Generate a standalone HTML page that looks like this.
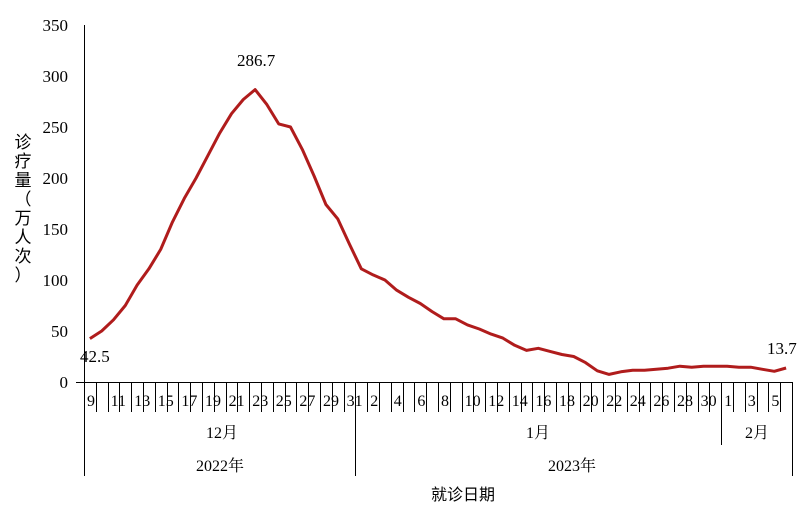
<!DOCTYPE html>
<html><head><meta charset="utf-8"><style>
html,body{margin:0;padding:0;background:#fff;}
svg{display:block;font-family:"Liberation Serif","Noto Serif CJK SC",serif;}
</style></head><body>
<svg width="810" height="509" viewBox="0 0 810 509" xmlns="http://www.w3.org/2000/svg">
<g font-size="17" fill="#000" text-anchor="end">
<text x="68" y="388">0</text>
<text x="68" y="337">50</text>
<text x="68" y="286">100</text>
<text x="68" y="235">150</text>
<text x="68" y="184">200</text>
<text x="68" y="133">250</text>
<text x="68" y="82">300</text>
<text x="68" y="31">350</text>
</g>
<g font-size="17" font-family="'Noto Sans CJK SC',sans-serif" text-anchor="middle">
<text x="23" y="148">诊</text><text x="23" y="167">疗</text><text x="23" y="186">量</text>
<text x="23" y="205">（</text><text x="23" y="224">万</text><text x="23" y="243">人</text>
<text x="23" y="262">次</text><text x="23" y="281">）</text>
</g>
<line x1="84.5" y1="25" x2="84.5" y2="476" stroke="#000" stroke-width="1"/>
<line x1="76" y1="382.5" x2="792" y2="382.5" stroke="#000" stroke-width="1"/>
<path stroke="#000" stroke-width="1" fill="none" d="M96.5 382V412M108.5 382V412M119.5 382V412M131.5 382V412M143.5 382V412M155.5 382V412M167.5 382V412M178.5 382V412M190.5 382V412M202.5 382V412M214.5 382V412M226.5 382V412M237.5 382V412M249.5 382V412M261.5 382V412M273.5 382V412M285.5 382V412M296.5 382V412M308.5 382V412M320.5 382V412M332.5 382V412M344.5 382V412M367.5 382V412M379.5 382V412M391.5 382V412M403.5 382V412M414.5 382V412M426.5 382V412M438.5 382V412M450.5 382V412M462.5 382V412M473.5 382V412M485.5 382V412M497.5 382V412M509.5 382V412M521.5 382V412M532.5 382V412M544.5 382V412M556.5 382V412M568.5 382V412M580.5 382V412M591.5 382V412M603.5 382V412M615.5 382V412M627.5 382V412M639.5 382V412M650.5 382V412M662.5 382V412M674.5 382V412M686.5 382V412M698.5 382V412M709.5 382V412M733.5 382V412M745.5 382V412M757.5 382V412M768.5 382V412M780.5 382V412"/>
<line x1="355.5" y1="382" x2="355.5" y2="476" stroke="#000"/>
<line x1="721.5" y1="382" x2="721.5" y2="445" stroke="#000"/>
<line x1="792.5" y1="382" x2="792.5" y2="476" stroke="#000"/>
<g font-size="16">
<text x="87" y="406">9</text><text x="110.6" y="406">11</text><text x="134.2" y="406">13</text><text x="157.8" y="406">15</text><text x="181.4" y="406">17</text><text x="205" y="406">19</text><text x="228.6" y="406">21</text><text x="252.2" y="406">23</text><text x="275.8" y="406">25</text><text x="299.4" y="406">27</text><text x="323" y="406">29</text><text x="346.6" y="406">31</text><text x="370.2" y="406">2</text><text x="393.8" y="406">4</text><text x="417.4" y="406">6</text><text x="441" y="406">8</text><text x="464.6" y="406">10</text><text x="488.2" y="406">12</text><text x="511.8" y="406">14</text><text x="535.4" y="406">16</text><text x="559" y="406">18</text><text x="582.6" y="406">20</text><text x="606.2" y="406">22</text><text x="629.8" y="406">24</text><text x="653.4" y="406">26</text><text x="677" y="406">28</text><text x="700.6" y="406">30</text><text x="724.2" y="406">1</text><text x="747.8" y="406">3</text><text x="771.4" y="406">5</text>
</g>
<g font-size="16" font-family="'Liberation Serif','Noto Serif CJK SC',serif" text-anchor="middle">
<text x="222" y="438">12月</text>
<text x="538" y="438">1月</text>
<text x="757" y="438">2月</text>
<text x="220" y="471">2022年</text>
<text x="572" y="471">2023年</text>
</g>
<text x="463" y="500" font-size="16" font-family="'Noto Sans CJK SC',sans-serif" text-anchor="middle">就诊日期</text>
<polyline fill="none" stroke="#B01C1C" stroke-width="3" stroke-linejoin="round" points="89.9,338.6 101.7,331.0 113.5,319.8 125.3,305.5 137.1,285.1 148.9,268.8 160.7,249.4 172.5,221.9 184.3,198.4 196.1,178.0 207.9,155.6 219.7,133.1 231.5,113.7 243.3,99.5 255.1,89.6 266.9,104.6 278.7,123.9 290.5,127.0 302.3,149.4 314.1,176.0 325.9,204.5 337.7,218.8 349.5,244.3 361.3,268.8 373.1,274.9 384.9,280.0 396.7,290.2 408.5,297.3 420.3,303.5 432.1,311.6 443.9,318.8 455.7,318.8 467.5,324.9 479.3,329.0 491.1,334.1 502.9,338.1 514.7,345.3 526.5,350.4 538.3,348.3 550.1,351.4 561.9,354.5 573.7,356.5 585.5,362.6 597.3,370.8 609.1,374.4 620.9,371.8 632.7,370.3 644.5,370.3 656.3,369.3 668.1,368.2 679.9,366.2 691.7,367.2 703.5,366.2 715.3,366.2 727.1,366.2 738.9,367.2 750.7,367.2 762.5,369.3 774.3,371.3 786.1,368.0"/>
<g font-size="17">
<text x="237" y="66">286.7</text>
<text x="80" y="362">42.5</text>
<text x="767" y="354">13.7</text>
</g>
</svg>
</body></html>
